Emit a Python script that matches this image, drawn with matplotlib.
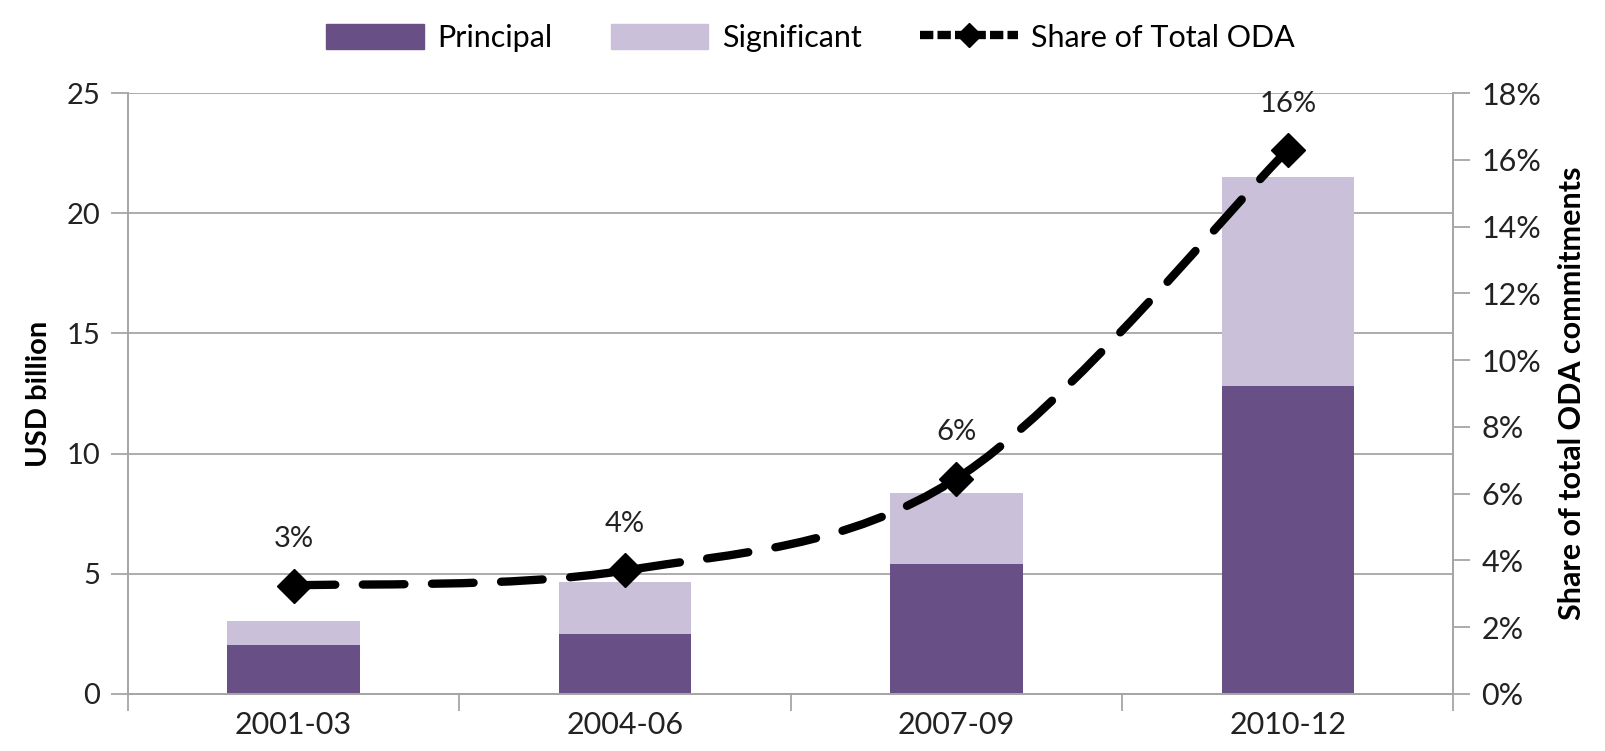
import matplotlib.pyplot as plt
import numpy as np
from matplotlib.path import Path
from matplotlib.patches import PathPatch, Patch
from matplotlib.lines import Line2D
from matplotlib.ticker import FuncFormatter, MultipleLocator, FixedLocator

plt.rcParams['font.family'] = ['Lato', 'DejaVu Sans']

periods = ['2001-03', '2004-06', '2007-09', '2010-12']
principal = [2.05, 2.5, 5.4, 12.8]
significant = [1.0, 2.15, 2.95, 8.7]
share = [3.25, 3.7, 6.45, 16.3]
share_labels = ['3%', '4%', '6%', '16%']

c_principal = '#684F86'
c_significant = '#CAC0DA'
grey = '#A6A6A6'
txt = '#222222'

fig = plt.figure(figsize=(16.05, 7.51), dpi=100)
ax = fig.add_axes([0.0797, 0.0759, 0.8259, 0.8001])
ax2 = ax.twinx()

x = np.arange(len(periods))
ax.bar(x, principal, width=0.4, color=c_principal, zorder=2)
ax.bar(x, significant, width=0.4, bottom=principal, color=c_significant, zorder=2)

ax.set_xlim(-0.5, 3.5)
ax.set_ylim(0, 25)
ax.yaxis.set_major_locator(MultipleLocator(5))
ax.grid(axis='y', color=grey, lw=1.3, zorder=0)
ax.set_axisbelow(True)
ax.set_xticks(x)
ax.set_xticklabels(periods)
ax.xaxis.set_minor_locator(FixedLocator([-0.5, 0.5, 1.5, 2.5, 3.5]))
ax.tick_params(axis='x', which='major', length=0, labelsize=22, pad=12, colors=txt)
ax.tick_params(axis='x', which='minor', length=12, width=1.3, color=grey, direction='out')
ax.tick_params(axis='y', length=12, width=1.3, color=grey, labelsize=21, pad=8, labelcolor=txt)
ax.set_ylabel('USD billion', fontsize=21, fontweight='bold', labelpad=10)

for a in (ax, ax2):
    a.spines['top'].set_visible(False)
    for s in ('left', 'right', 'bottom'):
        a.spines[s].set_color(grey)
        a.spines[s].set_linewidth(1.3)

# smoothed line (Excel-style Bezier through the data points)
pts = np.column_stack([x, share]).astype(float)
n = len(pts)
verts = [tuple(pts[0])]
codes = [Path.MOVETO]
for i in range(n - 1):
    p0 = pts[max(i - 1, 0)]
    p1 = pts[i]
    p2 = pts[i + 1]
    p3 = pts[min(i + 2, n - 1)]
    c1 = p1 + (p2 - p0) / 6
    c2 = p2 - (p3 - p1) / 6
    verts += [tuple(c1), tuple(c2), tuple(p2)]
    codes += [Path.CURVE4] * 3
ax2.add_patch(PathPatch(Path(verts, codes), fill=False, color='black', lw=6,
                        linestyle=(0, (5.0, 3.3)), capstyle='round', zorder=3))
ax2.plot(x, share, linestyle='none', marker='D', markersize=17, color='black', zorder=4)
for xi, yi, lab in zip(x, share, share_labels):
    ax2.annotate(lab, (xi, yi), xytext=(0, 24), textcoords='offset points',
                 ha='center', va='bottom', fontsize=21, color=txt)

ax2.set_ylim(0, 18)
ax2.yaxis.set_major_locator(MultipleLocator(2))
ax2.yaxis.set_major_formatter(FuncFormatter(lambda v, p: f'{v:.0f}%'))
ax2.tick_params(axis='y', length=12, width=1.3, color=grey, labelsize=22, pad=8, labelcolor=txt)
ax2.set_ylabel('Share of total ODA commitments', fontsize=22, fontweight='bold', labelpad=12)

handles = [Patch(color=c_principal), Patch(color=c_significant),
           Line2D([], [], color='black', lw=6, linestyle=(0, (1.6, 0.5)), marker='D', markersize=12)]
fig.legend(handles, ['Principal', 'Significant', 'Share of Total ODA'], loc='upper center',
           bbox_to_anchor=(0.505, 1.005), ncol=3, frameon=False, fontsize=22,
           handlelength=3.2, handleheight=0.9, columnspacing=1.9, handletextpad=0.45)

fig.savefig('out.png', dpi=100)
